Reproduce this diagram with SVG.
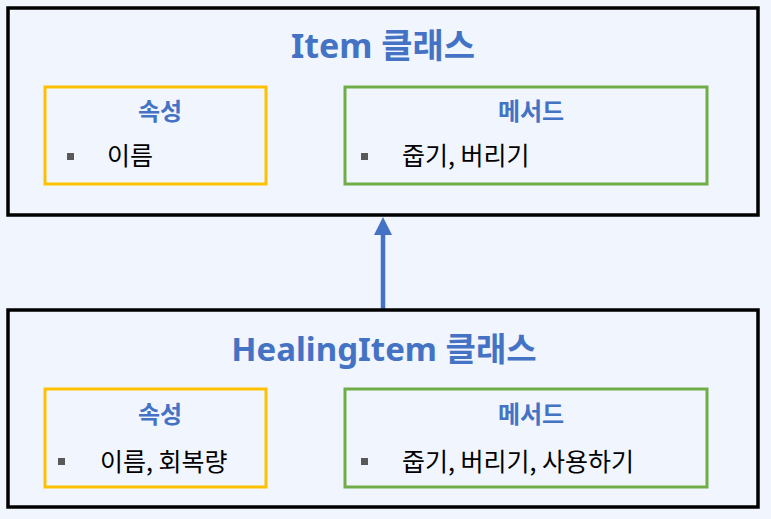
<svg xmlns="http://www.w3.org/2000/svg" width="771" height="519" viewBox="0 0 771 519">
<defs>
<style>
.cls{fill:none;stroke:#000;stroke-width:3.5}
.attr{fill:none;stroke:#FFC000;stroke-width:3}
.meth{fill:none;stroke:#70AD47;stroke-width:3}
.title{font-family:"Noto Sans","Noto Sans CJK KR",sans-serif;font-weight:bold;font-size:34px;fill:#4472C4;text-anchor:middle}
.sub{font-family:"Noto Sans CJK KR",sans-serif;font-weight:bold;font-size:24px;fill:#4472C4;text-anchor:middle}
.body{font-family:"Noto Sans CJK KR",sans-serif;font-size:25px;fill:#000}
.bul{fill:#595959}
</style>
<marker id="ah" markerWidth="4" markerHeight="4" refX="2" refY="2" orient="auto" markerUnits="strokeWidth">
<path d="M0,0 L4,2 L0,4 Z" fill="#4472C4"/>
</marker>
</defs>
<rect width="771" height="519" fill="#F0F5FE"/>
<g id="connectors">
<line x1="383" y1="309" x2="383" y2="226" stroke="#4472C4" stroke-width="4.5" marker-end="url(#ah)"/>
</g>
<g id="item">
<rect class="cls" x="8" y="8" width="750" height="207"/>
<text class="title" x="383" y="58">Item 클래스</text>
</g>
<g id="item-attr">
<rect class="attr" x="45" y="87" width="221" height="97"/>
<text class="sub" x="160" y="120">속성</text>
<rect class="bul" x="67" y="153" width="7" height="7"/>
<text class="body" x="107" y="165">이름</text>
</g>
<g id="item-meth">
<rect class="meth" x="345" y="87" width="362" height="97"/>
<text class="sub" x="531" y="120">메서드</text>
<rect class="bul" x="361" y="153" width="7" height="7"/>
<text class="body" x="402" y="165">줍기, 버리기</text>
</g>
<g id="healingitem">
<rect class="cls" x="8" y="310" width="750" height="197"/>
<text class="title" x="384" y="361" style="font-size:33px">HealingItem 클래스</text>
</g>
<g id="healing-attr">
<rect class="attr" x="45" y="389" width="221" height="98"/>
<text class="sub" x="160" y="423">속성</text>
<rect class="bul" x="58" y="458" width="7" height="7"/>
<text class="body" x="100" y="471">이름, 회복량</text>
</g>
<g id="healing-meth">
<rect class="meth" x="345" y="389" width="362" height="98"/>
<text class="sub" x="531" y="423">메서드</text>
<rect class="bul" x="361" y="458" width="7" height="7"/>
<text class="body" x="402" y="471">줍기, 버리기, 사용하기</text>
</g>
</svg>
